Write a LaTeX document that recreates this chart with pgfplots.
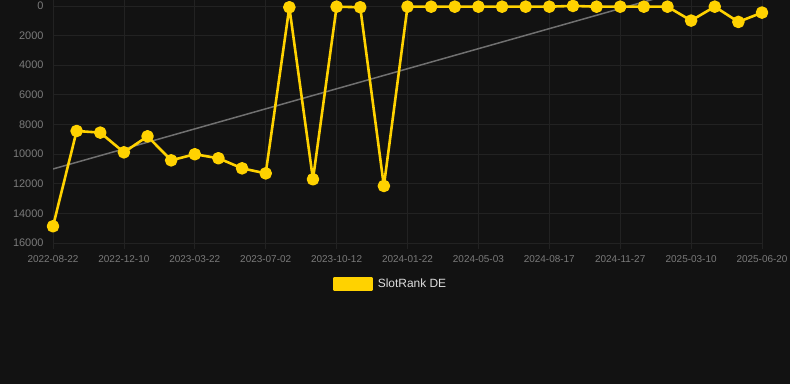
\documentclass[border=0pt]{standalone}
\usepackage{fontspec}
\setmainfont{Liberation Sans}
\usepackage{pgfplots}
\pgfplotsset{compat=1.18}
\definecolor{bg}{HTML}{121212}
\definecolor{gridc}{HTML}{222222}
\definecolor{tickc}{HTML}{7A7A7A}
\definecolor{gold}{HTML}{FFD200}
\definecolor{trend}{HTML}{707070}
\definecolor{legtext}{HTML}{DDDDDD}
\begin{document}
\begin{tikzpicture}[x=1bp,y=1bp]
\fill[bg] (0,0) rectangle (790,384);
\path[use as bounding box] (0,0) rectangle (790,384);
\begin{axis}[
  at={(53bp,141bp)}, anchor=south west,
  scale only axis, width=709bp, height=243bp,
  xmin=0, xmax=30, ymin=-400, ymax=16000, y dir=reverse,
  axis line style={draw=none},
  xtick={0,3,...,30},
  xticklabels={2022-08-22,2022-12-10,2023-03-22,2023-07-02,2023-10-12,2024-01-22,2024-05-03,2024-08-17,2024-11-27,2025-03-10,2025-06-20},
  ytick={0,2000,...,16000},
  scaled y ticks=false,
  grid=major, major grid style={gridc, line width=0.8bp},
  tick align=outside, major tick length=6bp,
  tickpos=left,
  xtick style={gridc, line width=0.8bp}, ytick style={draw=none},
  /pgf/number format/assume math mode=true,
  /pgf/number format/1000 sep={},
  xticklabel style={font=\fontsize{10}{12}\selectfont, text=tickc, yshift=-3bp},
  yticklabel style={font=\fontsize{11}{13}\selectfont, text=tickc, xshift=0bp},
  clip mode=individual,
  legend style={at={(axis description cs:0.3949,-0.1687)}, anchor=west, draw=none, fill=none, inner sep=0pt, text=legtext, font=\fontsize{12}{14}\selectfont},
  legend cell align=left,
  legend image code/.code={\fill[gold] (0bp,-6bp) rectangle (37bp,6bp); \path (40bp,0bp);},
]
\addplot[trend, line width=1.5bp, forget plot] coordinates {(0,11004) (30,-2526)};
\addplot[gold, line width=2.6bp, line join=round, mark=*, mark size=5bp, mark options={fill=gold, draw=none}] coordinates {
(0,14870) (1,8440) (2,8550) (3,9880) (4,8800) (5,10420) (6,10010) (7,10280) (8,10960) (9,11300)
(10,90) (11,11700) (12,50) (13,90) (14,12150) (15,50) (16,50) (17,50) (18,50) (19,50)
(20,50) (21,50) (22,0) (23,50) (24,50) (25,50) (26,50) (27,990) (28,50) (29,1080) (30,450)};
\addlegendentry{SlotRank DE}
\end{axis}
\end{tikzpicture}
\end{document}
